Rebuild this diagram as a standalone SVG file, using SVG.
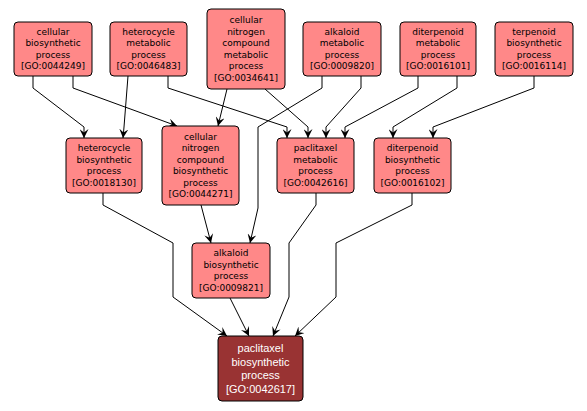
<svg xmlns="http://www.w3.org/2000/svg" width="587" height="411" viewBox="0 0 587 411">
<style>
.n rect{fill:#ff8888;stroke:#000;stroke-width:1}
.n text{font-family:"DejaVu Sans",sans-serif;font-size:9px;fill:#000;text-anchor:middle}
.m rect{fill:#993333;stroke:#000;stroke-width:1}
.m text{font-family:"Liberation Sans",Arial,sans-serif;font-size:11px;fill:#fff;text-anchor:middle}
.e path{fill:none;stroke:#000;stroke-width:1;marker-end:url(#a)}
</style>
<defs>
<marker id="a" viewBox="0 0 10 10" refX="10" refY="5" markerUnits="userSpaceOnUse" markerWidth="9" markerHeight="9" orient="auto">
<path d="M0,0 L10,5 L0,10 L4,5 z" fill="#000"/>
</marker>
</defs>
<rect width="587" height="411" fill="#fff"/>
<g id="edges" class="e">
<path d="M33,76 L33,88 L84,127 L84,138"/>
<path d="M73,76 L73,88 L177,126"/>
<path d="M128,76 L124,127 L123,138"/>
<path d="M168,76 L168,88 L287,127 L287,138"/>
<path d="M227,89 L218,126"/>
<path d="M265,89 L308,127 L308,138"/>
<path d="M322,76 L322,88 L258,127 L258,208 L250,243"/>
<path d="M361,76 L361,88 L326,127 L326,138"/>
<path d="M418,76 L418,88 L345,127 L345,138"/>
<path d="M457,76 L457,88 L393,127 L393,138"/>
<path d="M534,76 L534,88 L433,127 L433,138"/>
<path d="M201,205 L211,243"/>
<path d="M103,193 L103,205 L173,243 L173,297 L227,336"/>
<path d="M230,298 L249,336"/>
<path d="M316,193 L316,205 L289,243 L289,297 L273,336"/>
<path d="M412,193 L412,205 L336,243 L336,297 L295,336"/>
</g>
<g id="n1" class="n"><rect x="14" y="22" width="78" height="54" rx="4"/>
<text x="53" y="34.75">cellular</text><text x="53" y="46.25">biosynthetic</text><text x="53" y="57.75">process</text><text x="53" y="69.25">[GO:0044249]</text></g>
<g id="n2" class="n"><rect x="110" y="22" width="77" height="54" rx="4"/>
<text x="148.5" y="34.75">heterocycle</text><text x="148.5" y="46.25">metabolic</text><text x="148.5" y="57.75">process</text><text x="148.5" y="69.25">[GO:0046483]</text></g>
<g id="n3" class="n"><rect x="207" y="9" width="78" height="80" rx="4"/>
<text x="246" y="23.25">cellular</text><text x="246" y="34.75">nitrogen</text><text x="246" y="46.25">compound</text><text x="246" y="57.75">metabolic</text><text x="246" y="69.25">process</text><text x="246" y="80.75">[GO:0034641]</text></g>
<g id="n4" class="n"><rect x="303" y="22" width="78" height="54" rx="4"/>
<text x="342" y="34.75">alkaloid</text><text x="342" y="46.25">metabolic</text><text x="342" y="57.75">process</text><text x="342" y="69.25">[GO:0009820]</text></g>
<g id="n5" class="n"><rect x="400" y="22" width="76" height="54" rx="4"/>
<text x="438" y="34.75">diterpenoid</text><text x="438" y="46.25">metabolic</text><text x="438" y="57.75">process</text><text x="438" y="69.25">[GO:0016101]</text></g>
<g id="n6" class="n"><rect x="495" y="22" width="78" height="54" rx="4"/>
<text x="534" y="34.75">terpenoid</text><text x="534" y="46.25">biosynthetic</text><text x="534" y="57.75">process</text><text x="534" y="69.25">[GO:0016114]</text></g>
<g id="n7" class="n"><rect x="66" y="138" width="76" height="55" rx="4"/>
<text x="104" y="151.25">heterocycle</text><text x="104" y="162.75">biosynthetic</text><text x="104" y="174.25">process</text><text x="104" y="185.75">[GO:0018130]</text></g>
<g id="n8" class="n"><rect x="162" y="126" width="77" height="79" rx="4"/>
<text x="200.5" y="139.75">cellular</text><text x="200.5" y="151.25">nitrogen</text><text x="200.5" y="162.75">compound</text><text x="200.5" y="174.25">biosynthetic</text><text x="200.5" y="185.75">process</text><text x="200.5" y="197.25">[GO:0044271]</text></g>
<g id="n9" class="n"><rect x="277" y="138" width="77" height="55" rx="4"/>
<text x="315.5" y="151.25">paclitaxel</text><text x="315.5" y="162.75">metabolic</text><text x="315.5" y="174.25">process</text><text x="315.5" y="185.75">[GO:0042616]</text></g>
<g id="n10" class="n"><rect x="374" y="138" width="77" height="55" rx="4"/>
<text x="412.5" y="151.25">diterpenoid</text><text x="412.5" y="162.75">biosynthetic</text><text x="412.5" y="174.25">process</text><text x="412.5" y="185.75">[GO:0016102]</text></g>
<g id="n11" class="n"><rect x="192" y="243" width="78" height="55" rx="4"/>
<text x="231" y="256.25">alkaloid</text><text x="231" y="267.75">biosynthetic</text><text x="231" y="279.25">process</text><text x="231" y="290.75">[GO:0009821]</text></g>
<g id="n12" class="m"><rect x="218" y="336" width="85" height="65" rx="4"/>
<text x="260.5" y="352.25">paclitaxel</text><text x="260.5" y="365.75">biosynthetic</text><text x="260.5" y="379.25">process</text><text x="260.5" y="392.75">[GO:0042617]</text></g>
</svg>
